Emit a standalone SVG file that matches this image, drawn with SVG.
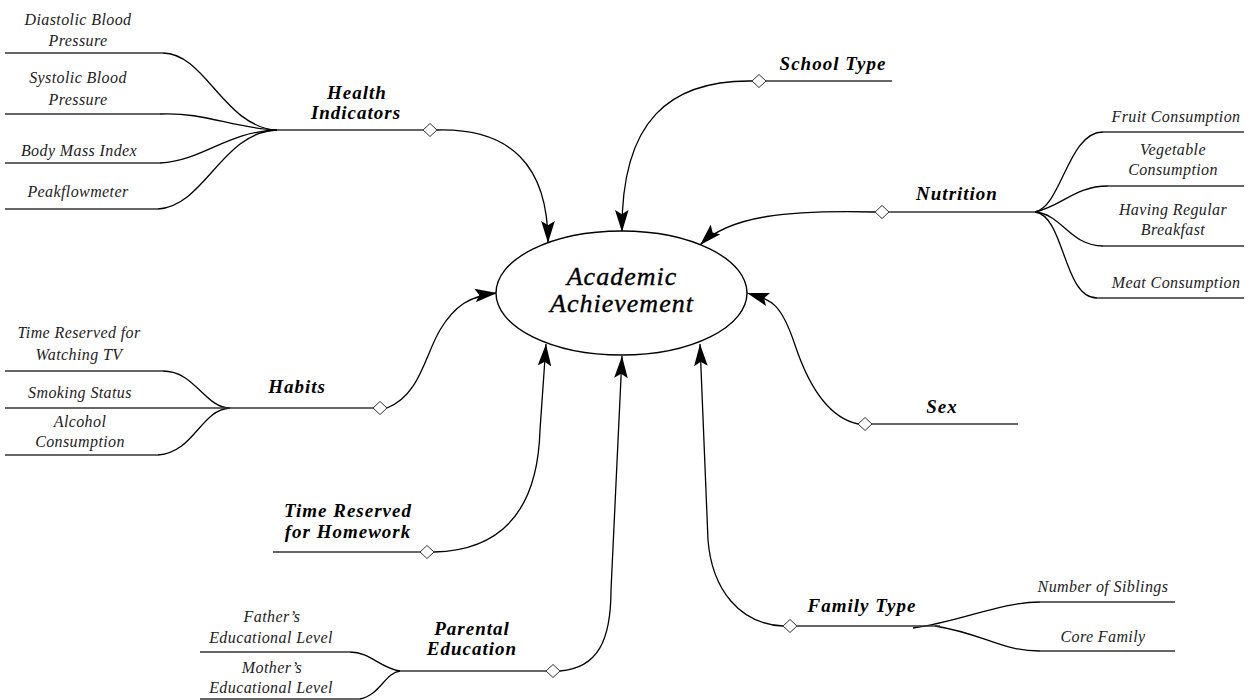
<svg xmlns="http://www.w3.org/2000/svg" width="1251" height="700" viewBox="0 0 1251 700">
<style>
.lbl{font-family:"Liberation Serif",serif;font-style:italic;font-weight:bold;font-size:19px;letter-spacing:1px;text-anchor:middle;fill:#000}
.leaf{font-family:"Liberation Serif",serif;font-style:italic;font-size:16px;letter-spacing:.4px;text-anchor:middle;fill:#222}
.main{font-family:"Liberation Serif",serif;font-style:italic;font-size:26px;letter-spacing:1px;text-anchor:middle;fill:#000;stroke:#000;stroke-width:.35}
.ul{stroke:#333;stroke-width:1.3;fill:none}
.dia{fill:#fff;stroke:#333;stroke-width:1}
.con{stroke:#000;stroke-width:1.3;fill:none}
.arr{stroke:#000;stroke-width:1.3;fill:none;marker-end:url(#ah)}
</style>
<defs>
<marker id="ah" markerUnits="userSpaceOnUse" markerWidth="22" markerHeight="14" viewBox="0 0 21 13" refX="21" refY="6.5" orient="auto">
<path d="M0,0 L21,6.5 L0,13 L4,6.5 Z" fill="#000"/>
</marker>
</defs>
<rect width="1251" height="700" fill="#fff"/>

<g id="connectors">
<path class="con" d="M163,53 C205,53 225,128 277,130"/>
<path class="con" d="M160,114 C205,112 232,128 277,130"/>
<path class="con" d="M160,163 C205,160 225,132 277,130"/>
<path class="con" d="M158,209 C205,206 222,132 277,130"/>
<path class="con" d="M1035,212 C1062,206 1068,132 1103,132"/>
<path class="con" d="M1035,212 C1062,206 1075,186 1108,186"/>
<path class="con" d="M1035,212 C1062,214 1070,246 1103,246"/>
<path class="con" d="M1035,212 C1065,216 1063,298 1097,298"/>
<path class="con" d="M163,371 C195,371 205,408 230,408"/>
<path class="con" d="M158,455 C195,452 200,410 230,408"/>
<path class="con" d="M350,652 C370,652 380,668 400,671"/>
<path class="con" d="M360,699 C380,695 385,673 400,671"/>
<path class="con" d="M913,628 C960,622 1000,602 1040,602"/>
<path class="con" d="M935,626 C985,634 1000,651 1040,651"/>
<path class="arr" d="M437,130 C510,128 548,165 548,243"/>
<path class="arr" d="M752,81 C670,80 621,120 622,232"/>
<path class="arr" d="M875,212 C790,210 730,215 700,245"/>
<path class="arr" d="M387,408 C420,395 425,355 440,330 S470,296 497,293"/>
<path class="arr" d="M434,552 C510,550 538,500 540,430 L546,344"/>
<path class="arr" d="M560,671 C598,668 611,640 611,590 L622,356"/>
<path class="arr" d="M783,626 C740,624 712,590 708,540 L700,344"/>
<path class="arr" d="M858,424 C830,418 810,390 795,345 S770,300 747,293"/>
</g>

<g id="academic-achievement">
<ellipse cx="621.5" cy="293" rx="125.5" ry="62" fill="#fff" stroke="#000" stroke-width="1.4"/>
<text class="main" x="622" y="285">Academic</text>
<text class="main" x="622" y="312">Achievement</text>
</g>

<g id="health-indicators">
<line class="ul" x1="277" y1="130" x2="423" y2="130"/>
<polygon class="dia" points="423,130 430,123.5 437,130 430,136.5"/>
<text class="lbl" x="357" y="99">Health</text>
<text class="lbl" x="356" y="119">Indicators</text>
</g>
<g id="diastolic"><line class="ul" x1="5" y1="53" x2="163" y2="53"/><text class="leaf" x="78" y="25">Diastolic Blood</text><text class="leaf" x="78" y="46">Pressure</text></g>
<g id="systolic"><line class="ul" x1="5" y1="114" x2="160" y2="114"/><text class="leaf" x="78" y="83">Systolic Blood</text><text class="leaf" x="78" y="105">Pressure</text></g>
<g id="bmi"><line class="ul" x1="5" y1="163" x2="160" y2="163"/><text class="leaf" x="79" y="156">Body Mass Index</text></g>
<g id="peakflow"><line class="ul" x1="5" y1="209" x2="158" y2="209"/><text class="leaf" x="78" y="197">Peakflowmeter</text></g>

<g id="school-type">
<line class="ul" x1="766" y1="81" x2="892" y2="81"/>
<polygon class="dia" points="752,81 759,74.5 766,81 759,87.5"/>
<text class="lbl" x="833" y="70">School Type</text>
</g>

<g id="nutrition">
<line class="ul" x1="889" y1="212" x2="1035" y2="212"/>
<polygon class="dia" points="875,212 882,205.5 889,212 882,218.5"/>
<text class="lbl" x="957" y="200">Nutrition</text>
</g>
<g id="fruit"><line class="ul" x1="1103" y1="132" x2="1244" y2="132"/><text class="leaf" x="1176" y="122">Fruit Consumption</text></g>
<g id="vegetable"><line class="ul" x1="1108" y1="186" x2="1244" y2="186"/><text class="leaf" x="1173" y="155">Vegetable</text><text class="leaf" x="1173" y="175">Consumption</text></g>
<g id="breakfast"><line class="ul" x1="1103" y1="246" x2="1244" y2="246"/><text class="leaf" x="1173" y="215">Having Regular</text><text class="leaf" x="1173" y="235">Breakfast</text></g>
<g id="meat"><line class="ul" x1="1097" y1="298" x2="1244" y2="298"/><text class="leaf" x="1176" y="288">Meat Consumption</text></g>

<g id="habits">
<line class="ul" x1="230" y1="408" x2="373" y2="408"/>
<polygon class="dia" points="373,408 380,401.5 387,408 380,414.5"/>
<text class="lbl" x="297" y="393">Habits</text>
</g>
<g id="tv"><line class="ul" x1="5" y1="371" x2="163" y2="371"/><text class="leaf" x="79" y="338">Time Reserved for</text><text class="leaf" x="79" y="360">Watching TV</text></g>
<g id="smoking"><line class="ul" x1="5" y1="408" x2="230" y2="408"/><text class="leaf" x="80" y="398">Smoking Status</text></g>
<g id="alcohol"><line class="ul" x1="5" y1="455" x2="158" y2="455"/><text class="leaf" x="80" y="427">Alcohol</text><text class="leaf" x="80" y="447">Consumption</text></g>

<g id="homework">
<line class="ul" x1="273" y1="552" x2="420" y2="552"/>
<polygon class="dia" points="420,552 427,545.5 434,552 427,558.5"/>
<text class="lbl" x="348" y="517">Time Reserved</text>
<text class="lbl" x="348" y="538">for Homework</text>
</g>

<g id="parental-education">
<line class="ul" x1="400" y1="671" x2="546" y2="671"/>
<polygon class="dia" points="546,671 553,664.5 560,671 553,677.5"/>
<text class="lbl" x="472" y="635">Parental</text>
<text class="lbl" x="472" y="655">Education</text>
</g>
<g id="father"><line class="ul" x1="200" y1="652" x2="350" y2="652"/><text class="leaf" x="272" y="622">Father’s</text><text class="leaf" x="271" y="643">Educational Level</text></g>
<g id="mother"><line class="ul" x1="200" y1="699" x2="360" y2="699"/><text class="leaf" x="272" y="673">Mother’s</text><text class="leaf" x="271" y="693">Educational Level</text></g>

<g id="family-type">
<line class="ul" x1="797" y1="626" x2="940" y2="626"/>
<polygon class="dia" points="783,626 790,619.5 797,626 790,632.5"/>
<text class="lbl" x="862" y="612">Family Type</text>
</g>
<g id="siblings"><line class="ul" x1="1040" y1="602" x2="1175" y2="602"/><text class="leaf" x="1103" y="592">Number of Siblings</text></g>
<g id="core-family"><line class="ul" x1="1040" y1="651" x2="1175" y2="651"/><text class="leaf" x="1103" y="642">Core Family</text></g>

<g id="sex">
<line class="ul" x1="872" y1="424" x2="1018" y2="424"/>
<polygon class="dia" points="858,424 865,417.5 872,424 865,430.5"/>
<text class="lbl" x="942" y="413">Sex</text>
</g>
</svg>
